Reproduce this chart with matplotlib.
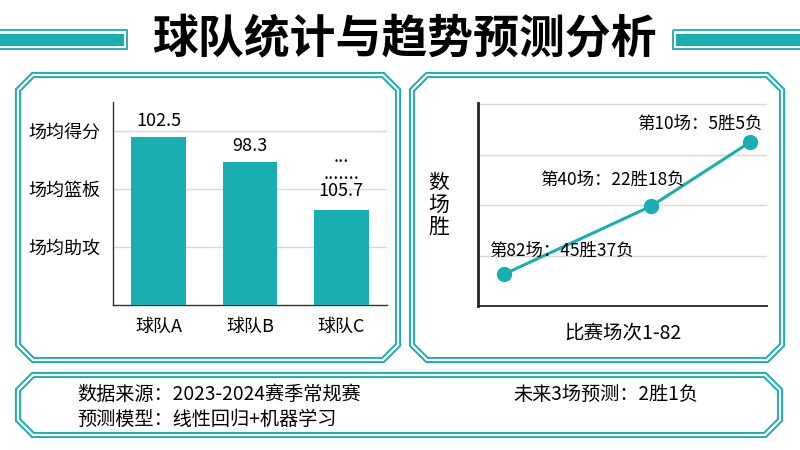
import matplotlib.pyplot as plt
from matplotlib.patches import Polygon, Rectangle

plt.rcParams['font.family'] = ['Noto Sans CJK SC', 'DejaVu Sans']

TEAL = '#19aeaf'
GRID = '#d9d9d9'

title = '球队统计与趋势预测分析'

# bar chart (left panel)
teams = ['球队A', '球队B', '球队C']
bar_heights = [2.9, 2.47, 1.64]
bar_labels = ['102.5', '98.3', '105.7']
metric_ticks = [1, 2, 3]
metric_names = ['场均助攻', '场均篮板', '场均得分']

# trend chart (right panel)
trend_x = [0.9, 6.0, 9.4]
trend_y = [0.63, 1.98, 3.24]
games = [82, 40, 10]
wins = [45, 22, 5]
losses = [37, 18, 5]

source_text = '数据来源：2023-2024赛季常规赛'
model_text = '预测模型：线性回归+机器学习'
forecast_text = '未来3场预测：2胜1负'


def panel(ax, x0, y0, x1, y1, c=15):
    pts = [(x0 + c, y0), (x1 - c, y0), (x1, y0 + c), (x1, y1 - c),
           (x1 - c, y1), (x0 + c, y1), (x0, y1 - c), (x0, y0 + c)]
    ax.add_patch(Polygon(pts, closed=True, fill=False, ec=TEAL, lw=4.4, joinstyle='miter'))
    ax.add_patch(Polygon(pts, closed=True, fill=False, ec='white', lw=1.6, joinstyle='miter'))


def title_bar(ax, x0, x1):
    ax.add_patch(Rectangle((x0, 30), x1 - x0, 19, fill=False, ec=TEAL, lw=1.3))
    ax.add_patch(Rectangle((x0 + 3, 34), x1 - x0 - 6, 11.5, fc=TEAL, ec='none'))


fig = plt.figure(figsize=(8, 4.5), dpi=100)

# background layer in pixel units for frames and texts
bg = fig.add_axes([0, 0, 1, 1])
bg.set_xlim(0, 800)
bg.set_ylim(450, 0)
bg.axis('off')

title_bar(bg, -10, 127)
title_bar(bg, 673, 810)
bg.text(404, 40, title, fontsize=33, fontweight='black', ha='center', va='center')

panel(bg, 18, 75, 398, 360)
panel(bg, 412, 75, 782, 360)
panel(bg, 18, 375, 780, 435)

bg.text(77, 394, source_text, fontsize=13.8, va='center')
bg.text(77, 419, model_text, fontsize=13.8, va='center')
bg.text(513, 394, forecast_text, fontsize=13.8, va='center')

# left: bars
ax1 = fig.add_axes([113 / 800, 145 / 450, 274 / 800, 203 / 450])
ax1.set_facecolor('none')
xs = range(len(teams))
ax1.bar(xs, bar_heights, width=0.6, color=TEAL, zorder=3)
ax1.set_xlim(-0.5, 2.5)
ax1.set_ylim(0, 3.5)
ax1.set_xticks(list(xs), teams)
ax1.set_yticks(metric_ticks, metric_names)
ax1.tick_params(length=0, labelsize=13, pad=9)
ax1.grid(axis='y', color=GRID, lw=1)
ax1.set_axisbelow(True)
for s in ['top', 'right']:
    ax1.spines[s].set_visible(False)
for s in ['left', 'bottom']:
    ax1.spines[s].set_color('#333333')
    ax1.spines[s].set_linewidth(1)

for i, (h, lab) in enumerate(zip(bar_heights, bar_labels)):
    last = i == len(bar_heights) - 1
    if last:
        # the stray dotted lines stacked above the last value
        lab = '...\n.......\n' + lab
        ax1.annotate(lab, (i, h), xytext=(0, 7), textcoords='offset points',
                     ha='center', va='bottom', multialignment='center',
                     linespacing=0.95, fontsize=13)
    else:
        ax1.annotate(lab, (i, h), xytext=(0, 11.5), textcoords='offset points',
                     ha='center', va='center', fontsize=13)

# right: trend line
ax2 = fig.add_axes([478 / 800, 144 / 450, 289 / 800, 203 / 450])
ax2.set_facecolor('none')
ax2.plot(trend_x, trend_y, color=TEAL, lw=2.2, marker='o', ms=10, zorder=3)
ax2.set_xlim(0, 10)
ax2.set_ylim(0, 4.02)
ax2.set_xticks([])
ax2.set_yticks([1, 2, 3, 4])
ax2.tick_params(length=0, labelleft=False)
ax2.grid(axis='y', color=GRID, lw=1)
ax2.set_axisbelow(True)
for s in ['top', 'right']:
    ax2.spines[s].set_visible(False)
ax2.spines['left'].set_linewidth(2)
ax2.spines['left'].set_color('#222222')
ax2.spines['bottom'].set_linewidth(1.3)
ax2.spines['bottom'].set_color('#222222')

offsets = [(-11, 17), (-80, 19), (-81, 13)]
for x, y, g, w, l, off in zip(trend_x, trend_y, games, wins, losses, offsets):
    ax2.annotate(f'第{g}场：{w}胜{l}负', (x, y), xytext=off, textcoords='offset points',
                 ha='left', va='center', fontsize=12.5)

ax2.set_ylabel('数\n场\n胜', rotation=0, fontsize=15, linespacing=1.0, va='center', ha='center')
ax2.yaxis.set_label_coords(-0.135, 0.5)
ax2.set_xlabel('比赛场次1-82', fontsize=14, va='center')
ax2.xaxis.set_label_coords(0.502, -0.133)

fig.savefig('out.png', dpi=100)
